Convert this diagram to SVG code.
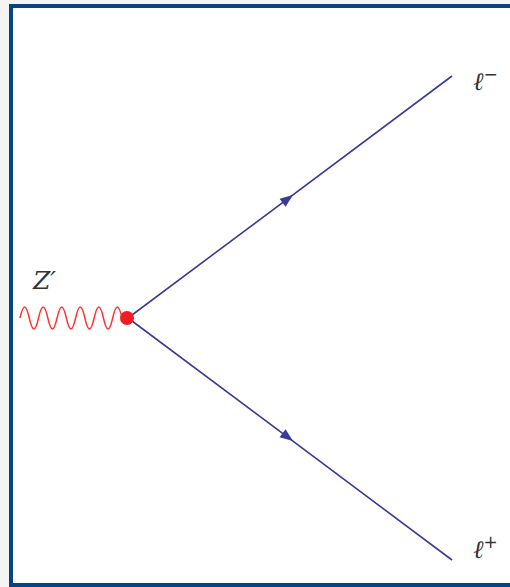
<svg xmlns="http://www.w3.org/2000/svg" width="510" height="587" viewBox="0 0 510 587">
<style>
.fermion{stroke:#3a3a98;stroke-width:1.6;fill:none}
.arrow{fill:#3a3a98}
.boson{stroke:#ff3333;stroke-width:1.5;fill:none}
.lbl{font-family:"DejaVu Serif","Liberation Serif",serif;font-style:italic;fill:#333;font-size:25px}
.sup{font-family:"DejaVu Sans","Liberation Sans",sans-serif;font-style:normal;font-size:17px}
</style>
<rect x="0" y="0" width="510" height="587" fill="#f4f4f2"/>
<rect x="11" y="6" width="510" height="579" fill="#ffffff" stroke="#054584" stroke-width="4"/>
<g id="connectors">
<path class="fermion" d="M128,318 L452,76"/>
<path class="fermion" d="M128,318 L452,560"/>
<path class="arrow" d="M0,0 L-13,-5 L-13,5 Z" transform="translate(293,195) rotate(-36.75)"/>
<path class="arrow" d="M0,0 L-13,-5 L-13,5 Z" transform="translate(293,441) rotate(36.75)"/>
<path class="boson" d="M20,318 c3.34,-14.6 5.93,-14.6 9.27,0 c3.34,14.6 5.93,14.6 9.27,0 c3.34,-14.6 5.93,-14.6 9.27,0 c3.34,14.6 5.93,14.6 9.27,0 c3.34,-14.6 5.93,-14.6 9.27,0 c3.34,14.6 5.93,14.6 9.27,0 c3.34,-14.6 5.93,-14.6 9.27,0 c3.34,14.6 5.93,14.6 9.27,0 c3.34,-14.6 5.93,-14.6 9.27,0 c3.34,14.6 5.93,14.6 9.27,0 c3.34,-14.6 5.93,-14.6 9.27,0"/>
</g>
<g id="vertex"><circle cx="127" cy="318" r="7" fill="#ee1c25"/></g>
<g id="label-zprime"><text class="lbl" x="33" y="289">Z′</text></g>
<g id="label-lminus"><text class="lbl" x="473" y="90">ℓ<tspan class="sup" dy="-10">−</tspan></text></g>
<g id="label-lplus"><text class="lbl" x="473" y="558">ℓ<tspan class="sup" dy="-10">+</tspan></text></g>
</svg>
